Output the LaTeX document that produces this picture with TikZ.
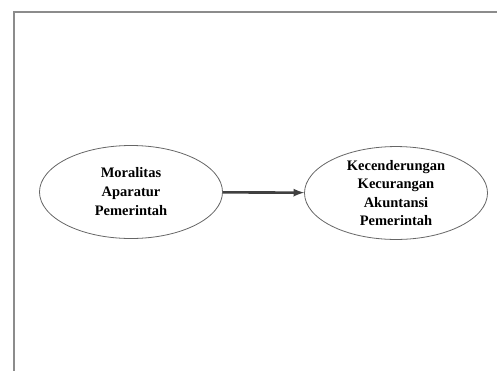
\documentclass[tikz,border=0pt]{standalone}
\usepackage{fontspec}
\setmainfont{Liberation Serif}
\usepackage{tikz}
\usetikzlibrary{
    arrows,
    shapes,
    positioning
}

\begin{document}
\begin{tikzpicture}[x=1pt, y=-1pt]
                        \useasboundingbox (0, 0) rectangle (497, 370);
                        \draw[color=black!45, line width=2.2pt]
                        (14, 372) -- (14, 12) -- (499, 12);
                        \node[ellipse, draw=black!60, line width=0.8pt,
                              minimum width=183pt, minimum height=93pt,
                              align=center, font=\bfseries\fontsize{14.5}{19}\selectfont]
                              (moral) at (131, 192) {Moralitas\\Aparatur\\Pemerintah};
                        \node[ellipse, draw=black!60, line width=0.8pt,
                              minimum width=183pt, minimum height=91pt, inner sep=0pt,
                              align=center, font=\bfseries\fontsize{14.5}{18.5}\selectfont]
                              (fraud) at (396, 193) {Kecenderungan\\Kecurangan\\Akuntansi\\Pemerintah};
                        \draw[-latex, color=black!75, line width=2.6pt]
                        (moral) -- (fraud);
                    \end{tikzpicture}
\end{document}
